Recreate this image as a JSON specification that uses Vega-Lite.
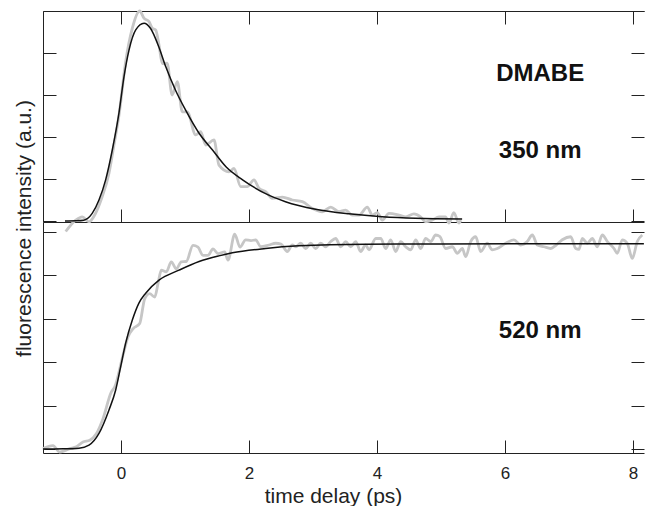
{
  "$schema": "https://vega.github.io/schema/vega-lite/v6.json",
  "autosize": {"type": "pad"},
  "padding": {"left": 12, "top": 5, "right": 0, "bottom": 0},
  "config": {
    "font": "Liberation Sans",
    "view": {"stroke": null},
    "axis": {"grid": false, "domainColor": "#222", "tickColor": "#222", "tickSize": -13, "tickWidth": 1, "domainWidth": 1, "labelColor": "#222", "titleColor": "#222", "titleFontWeight": "normal"}
  },
  "datasets": {
    "top_data": [
      {"t": -0.864, "v": -0.25}, {"t": -0.708, "v": 0.02}, {"t": -0.605, "v": 0.1}, {"t": -0.5, "v": -0.02}, {"t": -0.395, "v": 0.19}, {"t": -0.3, "v": 0.55}, {"t": -0.1875, "v": 1.14}, {"t": -0.11, "v": 1.81}, {"t": -0.031, "v": 2.52}, {"t": 0.073, "v": 3.79}, {"t": 0.177, "v": 4.59}, {"t": 0.292, "v": 5.0}, {"t": 0.359, "v": 4.83}, {"t": 0.4375, "v": 4.75}, {"t": 0.489, "v": 4.59}, {"t": 0.542, "v": 4.55}, {"t": 0.594, "v": 4.19}, {"t": 0.645, "v": 3.75}, {"t": 0.72, "v": 3.76}, {"t": 0.8, "v": 3.0}, {"t": 0.88, "v": 3.32}, {"t": 0.958, "v": 2.6}, {"t": 1.036, "v": 2.6}, {"t": 1.167, "v": 2.05}, {"t": 1.245, "v": 2.13}, {"t": 1.323, "v": 1.81}, {"t": 1.453, "v": 1.93}, {"t": 1.531, "v": 1.33}, {"t": 1.6875, "v": 1.17}, {"t": 1.766, "v": 1.25}, {"t": 1.87, "v": 0.82}, {"t": 1.973, "v": 0.82}, {"t": 2.078, "v": 0.98}, {"t": 2.156, "v": 0.78}, {"t": 2.26, "v": 0.7}, {"t": 2.364, "v": 0.54}, {"t": 2.52, "v": 0.57}, {"t": 2.677, "v": 0.5}, {"t": 2.833, "v": 0.46}, {"t": 2.99, "v": 0.3}, {"t": 3.145, "v": 0.22}, {"t": 3.277, "v": 0.33}, {"t": 3.406, "v": 0.22}, {"t": 3.51, "v": 0.26}, {"t": 3.614, "v": 0.14}, {"t": 3.72, "v": 0.14}, {"t": 3.848, "v": 0.33}, {"t": 3.927, "v": 0.14}, {"t": 4.005, "v": 0.2}, {"t": 4.083, "v": 0.02}, {"t": 4.1875, "v": 0.18}, {"t": 4.344, "v": 0.14}, {"t": 4.45, "v": 0.1}, {"t": 4.578, "v": 0.17}, {"t": 4.68, "v": 0.1}, {"t": 4.76, "v": -0.02}, {"t": 4.86, "v": 0.02}, {"t": 4.97, "v": 0.1}, {"t": 5.07, "v": 0.1}, {"t": 5.125, "v": -0.05}, {"t": 5.2, "v": 0.2}, {"t": 5.28, "v": -0.05}, {"t": 5.31, "v": 0.02}
    ],
    "top_fit": [
      {"t": -0.875, "v": 0}, {"t": -0.7, "v": 0.005}, {"t": -0.58, "v": 0.02}, {"t": -0.45, "v": 0.18}, {"t": -0.344, "v": 0.5}, {"t": -0.24, "v": 0.98}, {"t": -0.136, "v": 1.69}, {"t": -0.031, "v": 2.58}, {"t": 0.047, "v": 3.44}, {"t": 0.125, "v": 4.07}, {"t": 0.23, "v": 4.55}, {"t": 0.36, "v": 4.71}, {"t": 0.46, "v": 4.59}, {"t": 0.59, "v": 4.15}, {"t": 0.7, "v": 3.67}, {"t": 0.85, "v": 3.12}, {"t": 1.01, "v": 2.64}, {"t": 1.22, "v": 2.09}, {"t": 1.43, "v": 1.69}, {"t": 1.64, "v": 1.29}, {"t": 1.9, "v": 0.98}, {"t": 2.26, "v": 0.65}, {"t": 2.57, "v": 0.46}, {"t": 3.04, "v": 0.28}, {"t": 3.56, "v": 0.17}, {"t": 4.08, "v": 0.1}, {"t": 4.6, "v": 0.064}, {"t": 5.33, "v": 0.048}
    ],
    "bottom_data": [
      {"t": -1.219, "v": 0.01}, {"t": -1.0625, "v": 0.08}, {"t": -0.958, "v": -0.07}, {"t": -0.8, "v": 0.01}, {"t": -0.698, "v": 0.05}, {"t": -0.594, "v": 0.16}, {"t": -0.489, "v": 0.2}, {"t": -0.386, "v": 0.35}, {"t": -0.281, "v": 0.7}, {"t": -0.152, "v": 1.31}, {"t": -0.098, "v": 1.43}, {"t": 0.031, "v": 2.16}, {"t": 0.109, "v": 2.58}, {"t": 0.1875, "v": 2.77}, {"t": 0.292, "v": 2.89}, {"t": 0.37, "v": 3.46}, {"t": 0.448, "v": 3.58}, {"t": 0.527, "v": 3.5}, {"t": 0.578, "v": 3.81}, {"t": 0.63, "v": 4.12}, {"t": 0.708, "v": 4.08}, {"t": 0.786, "v": 4.31}, {"t": 0.864, "v": 4.15}, {"t": 0.942, "v": 4.31}, {"t": 1.02, "v": 4.32}, {"t": 1.125, "v": 4.69}, {"t": 1.203, "v": 4.65}, {"t": 1.281, "v": 4.46}, {"t": 1.359, "v": 4.46}, {"t": 1.4375, "v": 4.61}, {"t": 1.516, "v": 4.5}, {"t": 1.62, "v": 4.54}, {"t": 1.672, "v": 4.35}, {"t": 1.777, "v": 4.95}, {"t": 1.86, "v": 4.65}, {"t": 1.948, "v": 4.82}, {"t": 2.03, "v": 4.8}, {"t": 2.105, "v": 4.82}, {"t": 2.183, "v": 4.66}, {"t": 2.3125, "v": 4.7}, {"t": 2.417, "v": 4.74}, {"t": 2.5, "v": 4.72}, {"t": 2.598, "v": 4.55}, {"t": 2.677, "v": 4.7}, {"t": 2.73, "v": 4.66}, {"t": 2.808, "v": 4.74}, {"t": 2.886, "v": 4.62}, {"t": 2.964, "v": 4.74}, {"t": 3.042, "v": 4.62}, {"t": 3.12, "v": 4.74}, {"t": 3.198, "v": 4.66}, {"t": 3.277, "v": 4.78}, {"t": 3.355, "v": 4.85}, {"t": 3.433, "v": 4.66}, {"t": 3.511, "v": 4.78}, {"t": 3.589, "v": 4.66}, {"t": 3.667, "v": 4.78}, {"t": 3.745, "v": 4.55}, {"t": 3.823, "v": 4.7}, {"t": 3.875, "v": 4.59}, {"t": 3.98, "v": 4.85}, {"t": 4.058, "v": 4.85}, {"t": 4.136, "v": 4.62}, {"t": 4.214, "v": 4.82}, {"t": 4.292, "v": 4.55}, {"t": 4.37, "v": 4.78}, {"t": 4.448, "v": 4.66}, {"t": 4.527, "v": 4.59}, {"t": 4.605, "v": 4.82}, {"t": 4.683, "v": 4.62}, {"t": 4.761, "v": 4.85}, {"t": 4.839, "v": 4.78}, {"t": 4.917, "v": 4.93}, {"t": 4.98, "v": 4.9}, {"t": 5.073, "v": 4.62}, {"t": 5.177, "v": 4.66}, {"t": 5.255, "v": 4.51}, {"t": 5.333, "v": 4.62}, {"t": 5.386, "v": 4.43}, {"t": 5.464, "v": 4.78}, {"t": 5.542, "v": 4.89}, {"t": 5.62, "v": 4.55}, {"t": 5.723, "v": 4.74}, {"t": 5.8, "v": 4.59}, {"t": 5.88, "v": 4.62}, {"t": 6.011, "v": 4.74}, {"t": 6.14, "v": 4.82}, {"t": 6.245, "v": 4.7}, {"t": 6.348, "v": 4.78}, {"t": 6.427, "v": 4.93}, {"t": 6.505, "v": 4.7}, {"t": 6.609, "v": 4.66}, {"t": 6.714, "v": 4.62}, {"t": 6.8, "v": 4.7}, {"t": 6.895, "v": 4.82}, {"t": 7.027, "v": 4.89}, {"t": 7.105, "v": 4.62}, {"t": 7.156, "v": 4.6}, {"t": 7.208, "v": 4.85}, {"t": 7.286, "v": 4.74}, {"t": 7.364, "v": 4.85}, {"t": 7.442, "v": 4.66}, {"t": 7.52, "v": 4.93}, {"t": 7.6, "v": 4.78}, {"t": 7.703, "v": 4.62}, {"t": 7.755, "v": 4.51}, {"t": 7.833, "v": 4.82}, {"t": 7.91, "v": 4.74}, {"t": 7.989, "v": 4.39}, {"t": 8.067, "v": 4.78}, {"t": 8.145, "v": 4.93}
    ],
    "bottom_fit": [
      {"t": -1.22, "v": 0}, {"t": -0.9, "v": 0.005}, {"t": -0.656, "v": 0.02}, {"t": -0.5, "v": 0.09}, {"t": -0.344, "v": 0.36}, {"t": -0.1875, "v": 0.9}, {"t": -0.083, "v": 1.36}, {"t": -0.005, "v": 1.9}, {"t": 0.073, "v": 2.44}, {"t": 0.177, "v": 2.97}, {"t": 0.28, "v": 3.36}, {"t": 0.386, "v": 3.59}, {"t": 0.594, "v": 3.89}, {"t": 0.906, "v": 4.12}, {"t": 1.22, "v": 4.32}, {"t": 1.53, "v": 4.45}, {"t": 1.74, "v": 4.52}, {"t": 2.26, "v": 4.62}, {"t": 2.78, "v": 4.68}, {"t": 3.82, "v": 4.72}, {"t": 4.97, "v": 4.725}, {"t": 8.17, "v": 4.73}
    ]
  },
  "vconcat": [
    {
      "width": 601,
      "height": 211,
      "layer": [
        {
          "data": {"name": "top_data"},
          "mark": {"type": "line", "color": "#c6c6c6", "strokeWidth": 2.8, "interpolate": "monotone"},
          "encoding": {
            "x": {"field": "t", "type": "quantitative", "scale": {"domain": [-1.21875, 8.1719], "nice": false, "zero": false}, "axis": {"orient": "bottom", "labels": false, "values": [0, 2, 4, 6, 8], "title": null}},
            "y": {"field": "v", "type": "quantitative", "scale": {"domain": [-0.024, 5.0], "nice": false, "zero": false}, "axis": {"orient": "left", "labels": false, "values": [0, 1, 2, 3, 4, 5], "title": null}}
          }
        },
        {
          "data": {"name": "top_fit"},
          "mark": {"type": "line", "color": "#111", "strokeWidth": 1.5, "interpolate": "monotone"},
          "encoding": {
            "x": {"field": "t", "type": "quantitative", "scale": {"domain": [-1.21875, 8.1719], "nice": false, "zero": false}, "axis": {"orient": "top", "labels": false, "values": [0, 2, 4, 6, 8], "title": null}},
            "y": {"field": "v", "type": "quantitative", "scale": {"domain": [-0.024, 5.0], "nice": false, "zero": false}, "axis": {"orient": "right", "labels": false, "domain": false, "values": [0, 1, 2, 3, 4, 5], "title": null}}
          }
        },
        {
          "data": {"values": [{"label": "DMABE"}]},
          "mark": {"type": "text", "fontSize": 24, "fontWeight": "bold", "align": "center", "baseline": "alphabetic", "color": "#111"},
          "encoding": {
            "x": {"datum": 6.55, "type": "quantitative", "scale": {"domain": [-1.21875, 8.1719], "nice": false, "zero": false}, "axis": null},
            "y": {"datum": 3.33, "type": "quantitative", "scale": {"domain": [-0.024, 5.0], "nice": false, "zero": false}, "axis": null},
            "text": {"field": "label"}
          }
        },
        {
          "data": {"values": [{"label": "350 nm"}]},
          "mark": {"type": "text", "fontSize": 24, "fontWeight": "bold", "align": "center", "baseline": "alphabetic", "color": "#111"},
          "encoding": {
            "x": {"datum": 6.55, "type": "quantitative", "scale": {"domain": [-1.21875, 8.1719], "nice": false, "zero": false}, "axis": null},
            "y": {"datum": 1.5, "type": "quantitative", "scale": {"domain": [-0.024, 5.0], "nice": false, "zero": false}, "axis": null},
            "text": {"field": "label"}
          }
        }
      ],
      "resolve": {"axis": {"x": "independent", "y": "independent"}}
    },
    {
      "width": 601,
      "height": 231,
      "layer": [
        {
          "data": {"name": "bottom_data"},
          "mark": {"type": "line", "color": "#c6c6c6", "strokeWidth": 2.8, "interpolate": "monotone"},
          "encoding": {
            "x": {"field": "t", "type": "quantitative", "scale": {"domain": [-1.21875, 8.1719], "nice": false, "zero": false}, "axis": {"orient": "bottom", "values": [0, 2, 4, 6, 8], "labelFontSize": 17, "labelPadding": 25, "title": "time delay (ps)", "titleFontSize": 21, "titleX": 290, "titleY": 43, "titleBaseline": "middle"}},
            "y": {"field": "v", "type": "quantitative", "scale": {"domain": [-0.092, 5.23], "nice": false, "zero": false}, "axis": {"orient": "left", "labels": false, "values": [0, 1, 2, 3, 4, 5], "title": "fluorescence intensity (a.u.)", "titleFontSize": 21, "titleX": -19, "titleY": 6, "titleAngle": -90, "titleAlign": "center", "titleBaseline": "middle"}}
          }
        },
        {
          "data": {"name": "bottom_fit"},
          "mark": {"type": "line", "color": "#111", "strokeWidth": 1.5, "interpolate": "monotone"},
          "encoding": {
            "x": {"field": "t", "type": "quantitative", "scale": {"domain": [-1.21875, 8.1719], "nice": false, "zero": false}, "axis": null},
            "y": {"field": "v", "type": "quantitative", "scale": {"domain": [-0.092, 5.23], "nice": false, "zero": false}, "axis": {"orient": "right", "labels": false, "domain": false, "values": [0, 1, 2, 3, 4, 5], "title": null}}
          }
        },
        {
          "data": {"values": [{"label": "520 nm"}]},
          "mark": {"type": "text", "fontSize": 24, "fontWeight": "bold", "align": "center", "baseline": "alphabetic", "color": "#111"},
          "encoding": {
            "x": {"datum": 6.55, "type": "quantitative", "scale": {"domain": [-1.21875, 8.1719], "nice": false, "zero": false}, "axis": null},
            "y": {"datum": 2.56, "type": "quantitative", "scale": {"domain": [-0.092, 5.23], "nice": false, "zero": false}, "axis": null},
            "text": {"field": "label"}
          }
        }
      ],
      "resolve": {"axis": {"x": "independent", "y": "independent"}}
    }
  ],
  "spacing": 0,
  "bounds": "flush"
}
